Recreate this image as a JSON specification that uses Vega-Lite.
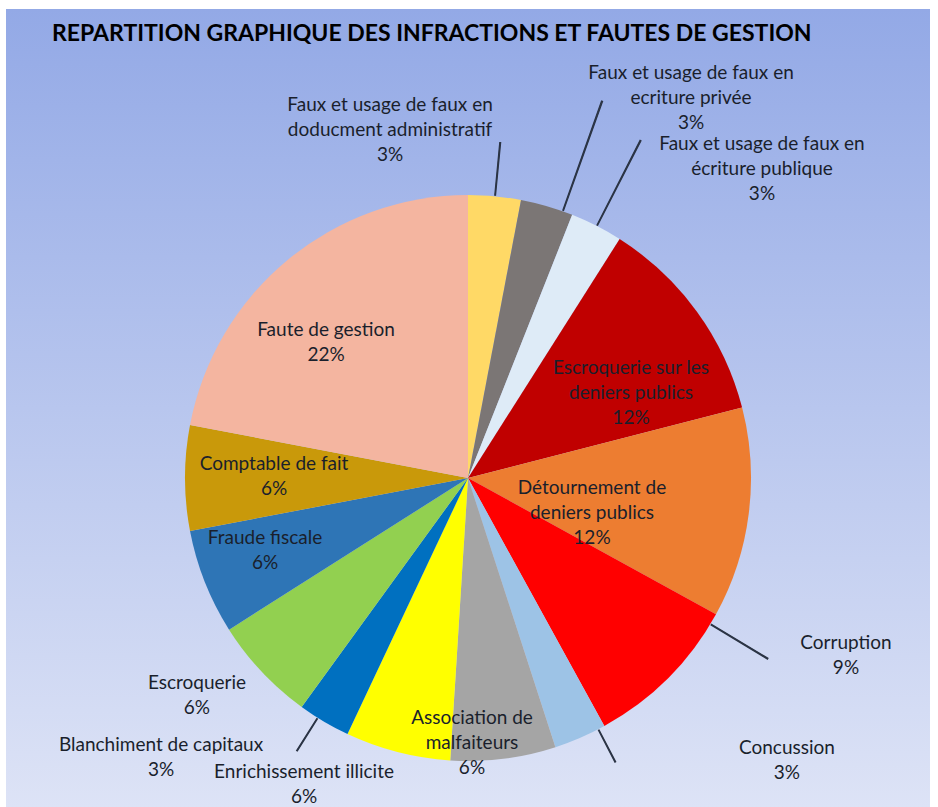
{
  "$schema": "https://vega.github.io/schema/vega-lite/v6.json",
  "width": 924,
  "height": 938,
  "autosize": {"type": "none"},
  "padding": {"top": 9, "left": 6, "right": 8, "bottom": -140},
  "background": "white",
  "title": {
    "text": "REPARTITION GRAPHIQUE DES INFRACTIONS ET FAUTES DE GESTION",
    "anchor": "start",
    "frame": "group",
    "offset": -55,
    "dx": 46,
    "font": "Lato",
    "fontSize": 23,
    "fontWeight": "bold",
    "color": "#000000",
    "baseline": "alphabetic"
  },
  "config": {
    "view": {"stroke": null},
    "text": {
      "font": "Lato",
      "fontSize": 19,
      "lineHeight": 25,
      "lineBreak": "\n",
      "fill": "#1a1f2c",
      "align": "center",
      "baseline": "top"
    }
  },
  "layer": [
    {
      "data": {"values": [{}]},
      "mark": {
        "type": "rect",
        "fill": {
          "gradient": "linear",
          "x1": 0, "y1": 0, "x2": 0, "y2": 1,
          "stops": [
            {"offset": 0, "color": "#93A9E6"},
            {"offset": 0.851, "color": "#DDE3F6"},
            {"offset": 1, "color": "#E8ECF9"}
          ]
        }
      },
      "encoding": {}
    },
    {
      "data": {
        "values": [
          {"idx": 1, "cat": "Faux et usage de faux en\ndoducment administratif", "pct": 3},
          {"idx": 2, "cat": "Faux et usage de faux en\necriture privée", "pct": 3},
          {"idx": 3, "cat": "Faux et usage de faux en\nécriture publique", "pct": 3},
          {"idx": 4, "cat": "Escroquerie sur les\ndeniers publics", "pct": 12},
          {"idx": 5, "cat": "Détournement de\ndeniers publics", "pct": 12},
          {"idx": 6, "cat": "Corruption", "pct": 9},
          {"idx": 7, "cat": "Concussion", "pct": 3},
          {"idx": 8, "cat": "Association de\nmalfaiteurs", "pct": 6},
          {"idx": 9, "cat": "Enrichissement illicite", "pct": 6},
          {"idx": 10, "cat": "Blanchiment de capitaux", "pct": 3},
          {"idx": 11, "cat": "Escroquerie", "pct": 6},
          {"idx": 12, "cat": "Fraude fiscale", "pct": 6},
          {"idx": 13, "cat": "Comptable de fait", "pct": 6},
          {"idx": 14, "cat": "Faute de gestion", "pct": 22}
        ]
      },
      "transform": [
        {"calculate": "datum.cat + '\\n' + datum.pct + '%'", "as": "txt"},
        {"stack": "pct", "groupby": [], "sort": [{"field": "idx", "order": "ascending"}], "as": ["s0", "s1"]}
      ],
      "encoding": {
        "theta": {"field": "pct", "type": "quantitative", "stack": true},
        "order": {"field": "idx", "type": "quantitative"},
        "detail": {"field": "cat"}
      },
      "layer": [
        {
          "mark": {"type": "arc", "outerRadius": 283},
          "encoding": {
            "color": {
              "field": "cat",
              "type": "nominal",
              "legend": null,
              "scale": {
                "domain": [
                  "Faux et usage de faux en\ndoducment administratif",
                  "Faux et usage de faux en\necriture privée",
                  "Faux et usage de faux en\nécriture publique",
                  "Escroquerie sur les\ndeniers publics",
                  "Détournement de\ndeniers publics",
                  "Corruption",
                  "Concussion",
                  "Association de\nmalfaiteurs",
                  "Enrichissement illicite",
                  "Blanchiment de capitaux",
                  "Escroquerie",
                  "Fraude fiscale",
                  "Comptable de fait",
                  "Faute de gestion"
                ],
                "range": ["#FFD966", "#7B7675", "#DEEBF7", "#C00000", "#ED7D31", "#FF0000", "#9DC3E6", "#A5A5A5", "#FFFF00", "#0070C0", "#92D050", "#2E75B6", "#C9990A", "#F4B5A0"]
              }
            }
          }
        },
        {"mark": {"type": "arc", "innerRadius": 284, "outerRadius": 337, "thetaOffset": 0.0942, "theta2Offset": 0.0972, "fill": "#2b3445", "stroke": "#2b3445", "strokeWidth": 1.1},
         "encoding": {"theta": {"field": "s0", "type": "quantitative"}, "theta2": {"field": "s0"}, "opacity": {"condition": {"test": "datum.idx === 1", "value": 1}, "value": 0}}},
        {"mark": {"type": "arc", "innerRadius": 284, "outerRadius": 400, "thetaOffset": 0.1518, "theta2Offset": 0.1548, "fill": "#2b3445", "stroke": "#2b3445", "strokeWidth": 1.1},
         "encoding": {"theta": {"field": "s0", "type": "quantitative"}, "theta2": {"field": "s0"}, "opacity": {"condition": {"test": "datum.idx === 2", "value": 1}, "value": 0}}},
        {"mark": {"type": "arc", "innerRadius": 284, "outerRadius": 379, "thetaOffset": 0.0942, "theta2Offset": 0.0972, "fill": "#2b3445", "stroke": "#2b3445", "strokeWidth": 1.1},
         "encoding": {"theta": {"field": "s0", "type": "quantitative"}, "theta2": {"field": "s0"}, "opacity": {"condition": {"test": "datum.idx === 3", "value": 1}, "value": 0}}},
        {"mark": {"type": "arc", "innerRadius": 284, "outerRadius": 350, "thetaOffset": 0.0383, "theta2Offset": 0.0413, "fill": "#2b3445", "stroke": "#2b3445", "strokeWidth": 1.1},
         "encoding": {"theta": {"field": "s0", "type": "quantitative"}, "theta2": {"field": "s0"}, "opacity": {"condition": {"test": "datum.idx === 6", "value": 1}, "value": 0}}},
        {"mark": {"type": "arc", "innerRadius": 284, "outerRadius": 320, "thetaOffset": 0.0227, "theta2Offset": 0.0257, "fill": "#2b3445", "stroke": "#2b3445", "strokeWidth": 1.1},
         "encoding": {"theta": {"field": "s0", "type": "quantitative"}, "theta2": {"field": "s0"}, "opacity": {"condition": {"test": "datum.idx === 7", "value": 1}, "value": 0}}},
        {"mark": {"type": "arc", "innerRadius": 284, "outerRadius": 322, "thetaOffset": 0.1187, "theta2Offset": 0.1217, "fill": "#2b3445", "stroke": "#2b3445", "strokeWidth": 1.1},
         "encoding": {"theta": {"field": "s0", "type": "quantitative"}, "theta2": {"field": "s0"}, "opacity": {"condition": {"test": "datum.idx === 10", "value": 1}, "value": 0}}},
        {"mark": {"type": "text", "radius": 389.4, "thetaOffset": -0.2958},
         "encoding": {"text": {"condition": {"test": "datum.idx === 1", "field": "txt"}, "value": ""}}},
        {"mark": {"type": "text", "radius": 470.7, "thetaOffset": 0.2110},
         "encoding": {"text": {"condition": {"test": "datum.idx === 2", "field": "txt"}, "value": ""}}},
        {"mark": {"type": "text", "radius": 452.1, "thetaOffset": 0.2367},
         "encoding": {"text": {"condition": {"test": "datum.idx === 3", "field": "txt"}, "value": ""}}},
        {"mark": {"type": "text", "radius": 202.1, "thetaOffset": -0.0042},
         "encoding": {"text": {"condition": {"test": "datum.idx === 4", "field": "txt"}, "value": ""}}},
        {"mark": {"type": "text", "radius": 124.0, "thetaOffset": -0.1136},
         "encoding": {"text": {"condition": {"test": "datum.idx === 5", "field": "txt"}, "value": ""}}},
        {"mark": {"type": "text", "radius": 409.1, "thetaOffset": -0.3929},
         "encoding": {"text": {"condition": {"test": "datum.idx === 6", "field": "txt"}, "value": ""}}},
        {"mark": {"type": "text", "radius": 411.9, "thetaOffset": -0.4773},
         "encoding": {"text": {"condition": {"test": "datum.idx === 7", "field": "txt"}, "value": ""}}},
        {"mark": {"type": "text", "radius": 231.5, "thetaOffset": 0.1084},
         "encoding": {"text": {"condition": {"test": "datum.idx === 8", "field": "txt"}, "value": ""}}},
        {"mark": {"type": "text", "radius": 328.4, "thetaOffset": 0.2715},
         "encoding": {"text": {"condition": {"test": "datum.idx === 9", "field": "txt"}, "value": ""}}},
        {"mark": {"type": "text", "radius": 401.3, "thetaOffset": 0.3369},
         "encoding": {"text": {"condition": {"test": "datum.idx === 10", "field": "txt"}, "value": ""}}},
        {"mark": {"type": "text", "radius": 334.2, "thetaOffset": 0.1290},
         "encoding": {"text": {"condition": {"test": "datum.idx === 11", "field": "txt"}, "value": ""}}},
        {"mark": {"type": "text", "radius": 209.4, "thetaOffset": 0.1286},
         "encoding": {"text": {"condition": {"test": "datum.idx === 12", "field": "txt"}, "value": ""}}},
        {"mark": {"type": "text", "radius": 195.3, "thetaOffset": 0.1155},
         "encoding": {"text": {"condition": {"test": "datum.idx === 13", "field": "txt"}, "value": ""}}},
        {"mark": {"type": "text", "radius": 211.3, "thetaOffset": -0.0455},
         "encoding": {"text": {"condition": {"test": "datum.idx === 14", "field": "txt"}, "value": ""}}}
      ]
    }
  ]
}
